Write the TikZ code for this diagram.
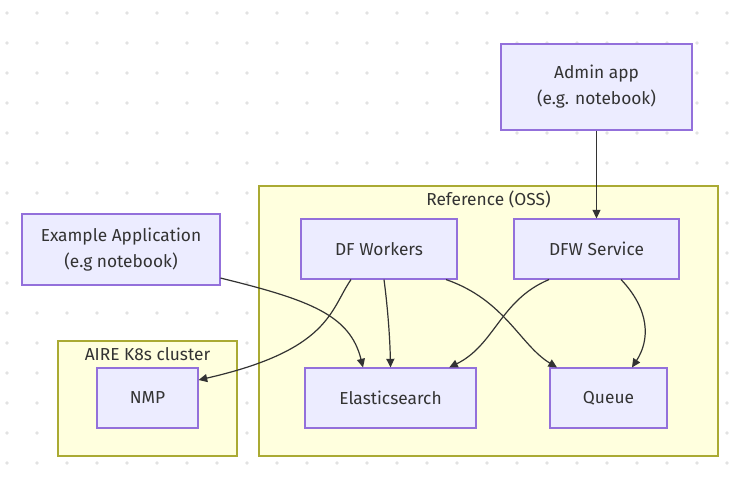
\documentclass[tikz,border=0pt]{standalone}
\usepackage{fontspec}
\setmainfont{Fira Sans}
\usetikzlibrary{arrows.meta}
\definecolor{boxfill}{HTML}{ECECFF}
\definecolor{boxline}{HTML}{9370DB}
\definecolor{clusterfill}{HTML}{FFFFDE}
\definecolor{clusterline}{HTML}{AAAA33}
\definecolor{ink}{HTML}{333333}
\definecolor{griddot}{HTML}{E2E2E2}
\begin{document}
\begin{tikzpicture}
        [x=0.75pt, y=-0.75pt,
        box/.style={rectangle, draw=boxline, fill=boxfill, line width=0.8pt, text=ink, align=center,
            font=\fontsize{13}{19.5}\selectfont, inner sep=0pt},
        cluster/.style={rectangle, draw=clusterline, fill=clusterfill, line width=0.8pt, inner sep=0pt},
        label/.style={text=ink, font=\fontsize{13}{15}\selectfont, inner sep=0pt},
        edge/.style={ink, line width=0.9pt, -{Triangle[length=6.5pt, width=6pt]}}]

        \useasboundingbox[fill=white] (0,0) rectangle (748,487);

        % dotted background
        \foreach \i in {0,...,24}
            \foreach \j in {0,...,15}
                \fill[griddot] (7+30*\i, 13+30*\j) circle (1.4pt);

        % clusters
        \node[cluster, minimum width=344.25pt, minimum height=202.5pt] (oss) at (488.5,321) {};
        \node[cluster, minimum width=134.25pt, minimum height=86.25pt] (aire) at (147.5,398.5) {};
        \node[label] (osslabel) at (488.5,199) {Reference (OSS)};
        \node[label] (airelabel) at (147.5,354) {AIRE K8s cluster};

        % boxes
        \node[box, minimum width=143.25pt, minimum height=64.5pt] (admin) at (596.5,87) {Admin app\\(e.g. notebook)};
        \node[box, minimum width=148.5pt, minimum height=53.25pt] (app) at (121,249.5) {Example Application\\(e.g notebook)};
        \node[box, minimum width=117pt, minimum height=45pt] (workers) at (379,249) {DF Workers};
        \node[box, minimum width=123.75pt, minimum height=45pt] (service) at (596.5,249) {DFW Service};
        \node[box, minimum width=75.75pt, minimum height=45pt] (nmp) at (147.5,398) {NMP};
        \node[box, minimum width=128.25pt, minimum height=45pt] (es) at (390.5,398) {Elasticsearch};
        \node[box, minimum width=87.75pt, minimum height=45pt] (queue) at (608.5,398) {Queue};

        % connectors
        \draw[edge] (admin) -- (service);
        \draw[edge] ([yshift=-21.4pt]app.east) .. controls (310,300) and (350,315) .. ([xshift=-20.6pt]es.north);
        \draw[edge] ([xshift=-21pt]workers.south) .. controls (330,310) and (330,350) .. ([yshift=13.5pt]nmp.east);
        \draw[edge] ([xshift=3.75pt]workers.south) .. controls (388,310) and (390,340) .. (es.north);
        \draw[edge] ([xshift=50.25pt]workers.south) .. controls (505,300) and (520,345) .. ([xshift=-38.6pt]queue.north);
        \draw[edge] ([xshift=-35.6pt]service.south) .. controls (500,300) and (495,345) .. ([xshift=44pt]es.north);
        \draw[edge] ([xshift=18.4pt]service.south) .. controls (650,310) and (650,340) .. ([xshift=17.6pt]queue.north);

    \end{tikzpicture}
\end{document}
